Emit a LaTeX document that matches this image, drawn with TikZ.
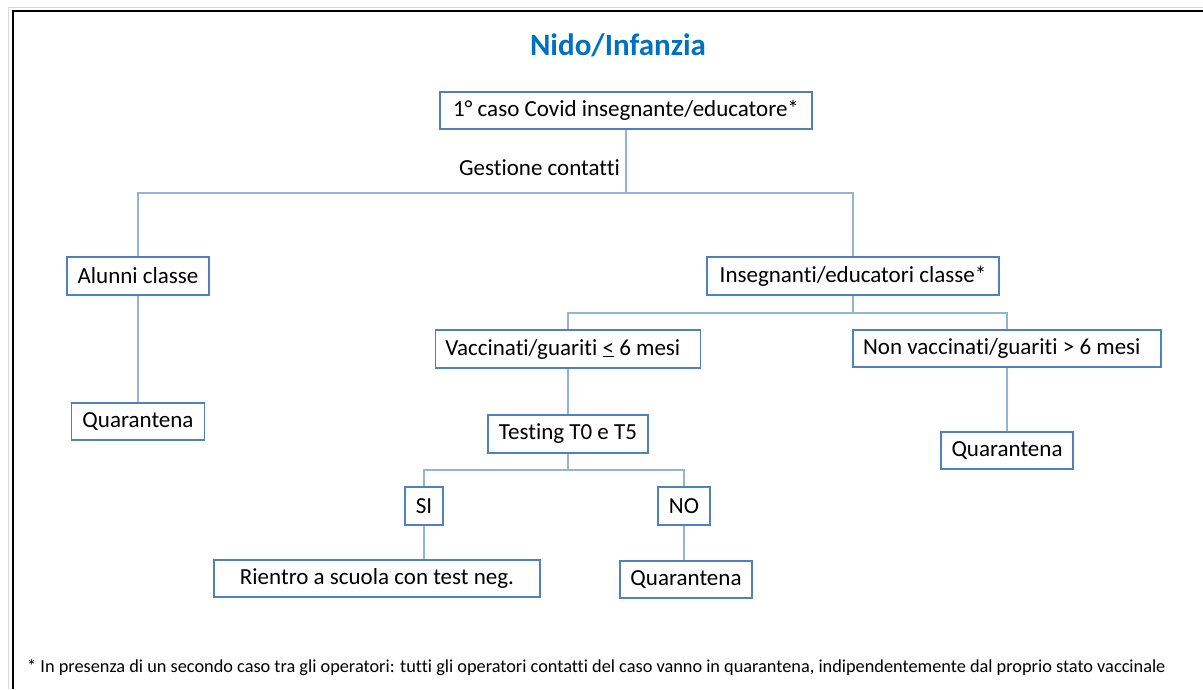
\documentclass[tikz,border=0pt]{standalone}
\usepackage{fontspec}
\setmainfont{Carlito}[Ligatures={NoCommon}]
\usetikzlibrary{positioning, calc}
\definecolor{myboxblue}{RGB}{79,129,189}
\definecolor{mylineblue}{RGB}{149,179,215}
\definecolor{mytitleblue}{RGB}{0,112,192}
\definecolor{myframegray}{RGB}{215,215,215}
\tikzset{
  stepbox/.style = {rectangle, draw = myboxblue, line width = 1.5pt, fill = white,
                    minimum height = 37pt, inner sep = 0pt, align = center,
                    font = \fontsize{23}{27}\selectfont},
  conn/.style = {draw = mylineblue, line width = 1.3pt}
}

\begin{document}
\begin{tikzpicture}[x=1pt, y=-1pt,
    plain/.style={inner sep=0pt, font=\fontsize{23}{27}\selectfont},
    note/.style={inner sep=0pt, font=\fontsize{18.3}{21}\selectfont}
    ]
\useasboundingbox (0,0) rectangle (1203,689);

% frame
\draw[myframegray, line width=1.5pt] (8.5,689) -- (8.5,7.5) -- (1203,7.5);
\draw[black, line width=2pt] (12.5,689) -- (12.5,11) -- (1203,11);

% title
\node[inner sep=0pt, font=\fontsize{31}{36}\selectfont\bfseries, text=mytitleblue]
    (title) at (618,45) {Nido/Infanzia};

% top level
\node[stepbox, minimum width=372pt] (primo) at (626,110.5) {1° caso Covid insegnante/educatore*};
\node[plain, anchor=east] (gestione) at (620,168) {Gestione contatti};
\coordinate (bus1) at (626,193);

%left part
\node[stepbox, minimum width=142pt, minimum height=38pt] (alunni) at (138,276) {Alunni classe};
\node[stepbox, minimum width=133pt] (quarA) at (138,421.5) {Quarantena};

%right part
\node[stepbox, minimum width=292pt, minimum height=38pt] (insegn) at (853,276) {Insegnanti/educatori classe*};
\coordinate (bus2) at (853,313);
\node[stepbox, minimum width=265pt, minimum height=38pt] (vacc) at (568,349) {Vaccinati/guariti \underline{<} 6 mesi\ \ };
\node[stepbox, minimum width=308pt] (nonvacc) at (1007,348.5) {Non vaccinati/guariti > 6 mesi\ \ };
\node[stepbox, minimum width=132pt] (quarB) at (1007,450.5) {Quarantena};

% testing
\node[stepbox, minimum width=160pt, minimum height=38pt] (testing) at (568,434) {Testing T0 e T5};
\coordinate (bus3) at (568,470);
\node[stepbox, minimum width=38pt, minimum height=38pt] (si) at (424,506) {SI};
\node[stepbox, minimum width=52pt, minimum height=38pt] (no) at (684,506) {NO};
\node[stepbox, minimum width=326pt] (rientro) at (377,578.5) {Rientro a scuola con test neg.};
\node[stepbox, minimum width=132pt] (quarC) at (686,579.5) {Quarantena};

% connectors
\draw[conn] (primo.south) -- (bus1);
\draw[conn] (alunni.north) |- (bus1) -| (insegn.north);
\draw[conn] (alunni.south) -- (quarA.north);
\draw[conn] (insegn.south) -- (bus2);
\draw[conn] (vacc.north) |- (bus2) -| (nonvacc.north);
\draw[conn] (nonvacc.south) -- (quarB.north);
\draw[conn] (vacc.south) -- (testing.north);
\draw[conn] (testing.south) -- (bus3);
\draw[conn] (si.north) |- (bus3) -| (no.north);
\draw[conn] (si.south) -- (si.south |- rientro.north);
\draw[conn] (no.south) -- (no.south |- quarC.north);

% footnote
\node[note, anchor=west] (nota) at (27,668) {* In presenza di un secondo caso tra gli operatori: tutti gli operatori contatti del caso vanno in quarantena, indipendentemente dal proprio stato vaccinale};
\end{tikzpicture}
\end{document}
